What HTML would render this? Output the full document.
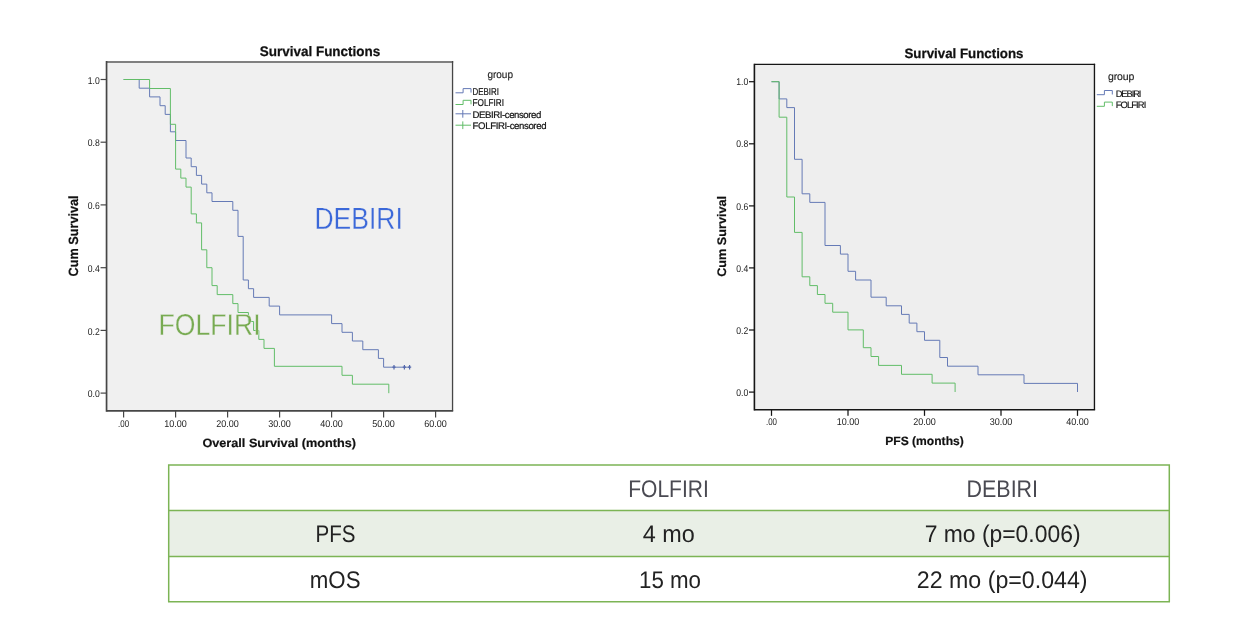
<!DOCTYPE html>
<html lang="en"><head><meta charset="utf-8"><title>Survival Functions</title>
<style>
html,body{margin:0;padding:0;background:#fff;}
body{width:1255px;height:644px;overflow:hidden;font-family:"Liberation Sans",sans-serif;}
svg{display:block;}
svg text{font-family:"Liberation Sans",sans-serif;text-rendering:geometricPrecision;}
.tk{font-size:9.8px;fill:#222;}
.ax{font-size:12px;font-weight:bold;fill:#111;stroke:#111;stroke-width:0.2px;}
.ti{font-size:13.8px;font-weight:bold;fill:#111;stroke:#111;stroke-width:0.25px;}
.lg{font-size:9.6px;fill:#111;stroke:#111;stroke-width:0.2px;}
.lg2{font-size:9.4px;fill:#111;stroke:#111;stroke-width:0.15px;}
.lgA{font-size:10px;fill:#111;stroke:#111;stroke-width:0.2px;}
.gp{font-size:10.5px;fill:#222;stroke:#222;stroke-width:0.15px;}
.tb{font-size:24px;fill:#222;}
.th{font-size:24px;fill:#4a4a52;}
</style></head><body>
<svg width="1255" height="644" viewBox="0 0 1255 644">
<rect width="1255" height="644" fill="#ffffff"/>

<rect x="106.55" y="62" width="346.00" height="348.80" fill="#f0f0f0"/>
<path d="M106.55,62H453.20" fill="none" stroke="#808080" stroke-width="2"/>
<path d="M452.55,61.00V410.8" fill="none" stroke="#464646" stroke-width="1.3"/>
<path d="M106.55,61.00V411.65" fill="none" stroke="#464646" stroke-width="1.7"/>
<path d="M106.55,410.8H453.20" fill="none" stroke="#464646" stroke-width="1.7"/>
<path d="M123.6,410.8v6.6" stroke="#464646" stroke-width="1.2"/>
<text class="tk" x="123.6" y="427.1" text-anchor="middle" textLength="11" lengthAdjust="spacingAndGlyphs">.00</text>
<path d="M175.6,410.8v6.6" stroke="#464646" stroke-width="1.2"/>
<text class="tk" x="175.6" y="427.1" text-anchor="middle" textLength="22.6" lengthAdjust="spacingAndGlyphs">10.00</text>
<path d="M227.6,410.8v6.6" stroke="#464646" stroke-width="1.2"/>
<text class="tk" x="227.6" y="427.1" text-anchor="middle" textLength="22.6" lengthAdjust="spacingAndGlyphs">20.00</text>
<path d="M279.6,410.8v6.6" stroke="#464646" stroke-width="1.2"/>
<text class="tk" x="279.6" y="427.1" text-anchor="middle" textLength="22.6" lengthAdjust="spacingAndGlyphs">30.00</text>
<path d="M331.6,410.8v6.6" stroke="#464646" stroke-width="1.2"/>
<text class="tk" x="331.6" y="427.1" text-anchor="middle" textLength="22.6" lengthAdjust="spacingAndGlyphs">40.00</text>
<path d="M383.6,410.8v6.6" stroke="#464646" stroke-width="1.2"/>
<text class="tk" x="383.6" y="427.1" text-anchor="middle" textLength="22.6" lengthAdjust="spacingAndGlyphs">50.00</text>
<path d="M435.6,410.8v6.6" stroke="#464646" stroke-width="1.2"/>
<text class="tk" x="435.6" y="427.1" text-anchor="middle" textLength="22.6" lengthAdjust="spacingAndGlyphs">60.00</text>
<path d="M106.55,79.5h-6" stroke="#464646" stroke-width="1.2"/>
<text class="tk" x="99.8" y="83.7" text-anchor="end" textLength="12" lengthAdjust="spacingAndGlyphs">1.0</text>
<path d="M106.55,142.2h-6" stroke="#464646" stroke-width="1.2"/>
<text class="tk" x="99.8" y="146.4" text-anchor="end" textLength="12" lengthAdjust="spacingAndGlyphs">0.8</text>
<path d="M106.55,204.9h-6" stroke="#464646" stroke-width="1.2"/>
<text class="tk" x="99.8" y="209.1" text-anchor="end" textLength="12" lengthAdjust="spacingAndGlyphs">0.6</text>
<path d="M106.55,267.7h-6" stroke="#464646" stroke-width="1.2"/>
<text class="tk" x="99.8" y="271.9" text-anchor="end" textLength="12" lengthAdjust="spacingAndGlyphs">0.4</text>
<path d="M106.55,330.4h-6" stroke="#464646" stroke-width="1.2"/>
<text class="tk" x="99.8" y="334.6" text-anchor="end" textLength="12" lengthAdjust="spacingAndGlyphs">0.2</text>
<path d="M106.55,393.1h-6" stroke="#464646" stroke-width="1.2"/>
<text class="tk" x="99.8" y="397.3" text-anchor="end" textLength="12" lengthAdjust="spacingAndGlyphs">0.0</text>
<path d="M123.6,79.5H139.2V88.2H149.6V96.9H160.0V105.7H165.2V114.4H170.4V131.8H175.6V140.5H186.0V158.0H191.2V166.7H196.4V175.4H201.6V184.1H206.8V192.8H212.0V201.5H232.8V210.3H238.0V236.4H243.2V280.0H248.4V288.7H253.6V297.4H269.2V306.1H279.6V314.9H331.6V323.6H342.0V332.3H352.4V341.0H362.8V349.7H378.4V358.4H383.6V367.2H409.6" fill="none" stroke="#657ab6" stroke-width="1"/>
<path d="M123.6,79.5H149.6V88.5H170.4V124.3H175.6V169.1H180.8V178.1H186.0V187.1H191.2V213.9H196.4V222.9H201.6V249.8H206.8V267.7H212.0V285.6H217.2V294.6H232.8V303.6H238.0V312.5H248.4V321.5H253.6V330.5H258.8V339.4H264.0V348.4H274.4V366.3H342.0V375.3H352.4V384.2H388.8V393.2" fill="none" stroke="#62bd68" stroke-width="1"/>
<path d="M394.0,365.0v4.4M392.4,367.2h3.2" stroke="#5468ac" stroke-width="1.2"/>
<path d="M404.4,365.0v4.4M402.8,367.2h3.2" stroke="#5468ac" stroke-width="1.2"/>
<path d="M409.6,365.0v4.4M408.0,367.2h3.2" stroke="#5468ac" stroke-width="1.2"/>
<text class="ti" x="320" y="55.6" text-anchor="middle" textLength="120.5" lengthAdjust="spacingAndGlyphs">Survival Functions</text>
<text class="ax" x="279.2" y="447.2" text-anchor="middle" textLength="153.6" lengthAdjust="spacingAndGlyphs">Overall Survival (months)</text>
<text class="ax" style="font-size:13.4px" transform="translate(78.3,235.9) rotate(-90)" text-anchor="middle" textLength="81" lengthAdjust="spacingAndGlyphs">Cum Survival</text>
<text class="gp" x="487.4" y="78" textLength="25.6" lengthAdjust="spacingAndGlyphs">group</text>
<path d="M455.5,92.8h7.6v-4.2h7.9v4" fill="none" stroke="#657ab6" stroke-width="1"/>
<text class="lgA" x="472.6" y="94.7" textLength="26.4" lengthAdjust="spacingAndGlyphs">DEBIRI</text>
<path d="M455.5,104.5h7.6v-4.2h7.9v4" fill="none" stroke="#62bd68" stroke-width="1"/>
<text class="lgA" x="472.6" y="106.4" textLength="31.4" lengthAdjust="spacingAndGlyphs">FOLFIRI</text>
<path d="M455.5,113.8h15.5M462.8,110.0v7.7" fill="none" stroke="#657ab6" stroke-width="1"/>
<text class="lg" x="472.6" y="117.7" textLength="68.7" lengthAdjust="spacing">DEBIRI-censored</text>
<path d="M455.5,125.2h15.5M462.8,121.4v7.7" fill="none" stroke="#62bd68" stroke-width="1"/>
<text class="lg" x="472.6" y="129" textLength="73.9" lengthAdjust="spacing">FOLFIRI-censored</text>
<text x="314.4" y="229.2" font-size="30.6" fill="#3b68d9" stroke="#f0f0f0" stroke-width="0.3" paint-order="fill stroke" textLength="88.5" lengthAdjust="spacingAndGlyphs">DEBIRI</text>
<text x="158.6" y="335.4" font-size="30.2" fill="#78ab52" stroke="#f0f0f0" stroke-width="0.3" paint-order="fill stroke" textLength="102" lengthAdjust="spacingAndGlyphs">FOLFIRI</text>
<rect x="754.4" y="64.4" width="340.05" height="345.25" fill="#eeeeee"/>
<path d="M754.4,64.4H1095.12" fill="none" stroke="#161616" stroke-width="1.2"/>
<path d="M1094.45,63.80V409.65" fill="none" stroke="#161616" stroke-width="1.35"/>
<path d="M754.4,63.80V410.40" fill="none" stroke="#161616" stroke-width="1.6"/>
<path d="M754.4,409.65H1095.12" fill="none" stroke="#161616" stroke-width="1.5"/>
<path d="M771.5,409.65v6.2" stroke="#161616" stroke-width="1.25"/>
<text class="tk" x="771.5" y="424.8" text-anchor="middle" textLength="11" lengthAdjust="spacingAndGlyphs">.00</text>
<path d="M848.0,409.65v6.2" stroke="#161616" stroke-width="1.25"/>
<text class="tk" x="848.0" y="424.8" text-anchor="middle" textLength="22.6" lengthAdjust="spacingAndGlyphs">10.00</text>
<path d="M924.5,409.65v6.2" stroke="#161616" stroke-width="1.25"/>
<text class="tk" x="924.5" y="424.8" text-anchor="middle" textLength="22.6" lengthAdjust="spacingAndGlyphs">20.00</text>
<path d="M1001.0,409.65v6.2" stroke="#161616" stroke-width="1.25"/>
<text class="tk" x="1001.0" y="424.8" text-anchor="middle" textLength="22.6" lengthAdjust="spacingAndGlyphs">30.00</text>
<path d="M1077.5,409.65v6.2" stroke="#161616" stroke-width="1.25"/>
<text class="tk" x="1077.5" y="424.8" text-anchor="middle" textLength="22.6" lengthAdjust="spacingAndGlyphs">40.00</text>
<path d="M754.4,81.7h-5.4" stroke="#161616" stroke-width="1.25"/>
<text class="tk" x="748.2" y="85.3" text-anchor="end" textLength="12" lengthAdjust="spacingAndGlyphs">1.0</text>
<path d="M754.4,143.8h-5.4" stroke="#161616" stroke-width="1.25"/>
<text class="tk" x="748.2" y="147.4" text-anchor="end" textLength="12" lengthAdjust="spacingAndGlyphs">0.8</text>
<path d="M754.4,205.9h-5.4" stroke="#161616" stroke-width="1.25"/>
<text class="tk" x="748.2" y="209.5" text-anchor="end" textLength="12" lengthAdjust="spacingAndGlyphs">0.6</text>
<path d="M754.4,267.9h-5.4" stroke="#161616" stroke-width="1.25"/>
<text class="tk" x="748.2" y="271.5" text-anchor="end" textLength="12" lengthAdjust="spacingAndGlyphs">0.4</text>
<path d="M754.4,330.0h-5.4" stroke="#161616" stroke-width="1.25"/>
<text class="tk" x="748.2" y="333.6" text-anchor="end" textLength="12" lengthAdjust="spacingAndGlyphs">0.2</text>
<path d="M754.4,392.1h-5.4" stroke="#161616" stroke-width="1.25"/>
<text class="tk" x="748.2" y="395.7" text-anchor="end" textLength="12" lengthAdjust="spacingAndGlyphs">0.0</text>
<path d="M771.5,81.7H779.1V98.9H786.8V107.6H794.5V159.3H802.1V193.8H809.8V202.4H825.0V245.5H840.4V254.1H848.0V271.3H855.6V280.0H871.0V297.2H886.2V305.8H901.5V314.4H909.2V323.1H916.9V331.7H924.5V340.3H939.8V357.5H947.5V366.2H978.0V374.8H1024.0V383.4H1077.5V392.0" fill="none" stroke="#657ab6" stroke-width="1"/>
<path d="M771.5,81.7H779.1V117.2H786.8V197.0H794.5V232.4H802.1V276.8H809.8V285.6H817.4V294.5H825.0V303.3H832.7V312.2H848.0V329.9H863.3V347.7H871.0V356.5H878.6V365.4H901.5V374.3H932.1V383.1H955.1V392.0" fill="none" stroke="#62bd68" stroke-width="1"/>
<text class="ti" style="font-size:13.6px" x="964" y="57.8" text-anchor="middle" textLength="119" lengthAdjust="spacingAndGlyphs">Survival Functions</text>
<text class="ax" x="924.5" y="445.2" text-anchor="middle" textLength="78.6" lengthAdjust="spacingAndGlyphs">PFS (months)</text>
<text class="ax" style="font-size:12.4px" transform="translate(726.3,236.4) rotate(-90)" text-anchor="middle" textLength="80.8" lengthAdjust="spacingAndGlyphs">Cum Survival</text>
<text class="gp" x="1108" y="80.1" textLength="26.4" lengthAdjust="spacing">group</text>
<path d="M1096.8,94.7h7.6v-4.2h7.9v4" fill="none" stroke="#657ab6" stroke-width="1"/>
<text class="lg2" x="1115.7" y="96.7" textLength="25.7" lengthAdjust="spacing">DEBIRI</text>
<path d="M1096.8,106.3h7.6v-4.2h7.9v4" fill="none" stroke="#62bd68" stroke-width="1"/>
<text class="lg2" x="1115.7" y="108.3" textLength="30.6" lengthAdjust="spacing">FOLFIRI</text>
<rect x="168.7" y="510.4" width="1000.6" height="46" fill="#e9efe6"/>
<path d="M168.7,464.9H1169.3V601.8H168.7ZM168.7,510.4H1169.3M168.7,556.4H1169.3" fill="none" stroke="#7cb455" stroke-width="1.5"/>
<text class="th" x="668.5" y="496.7" text-anchor="middle" textLength="80.6" lengthAdjust="spacingAndGlyphs">FOLFIRI</text>
<text class="th" x="1002.3" y="496.7" text-anchor="middle" textLength="71.5" lengthAdjust="spacingAndGlyphs">DEBIRI</text>
<text class="tb" x="335.6" y="541.6" text-anchor="middle" textLength="40" lengthAdjust="spacingAndGlyphs">PFS</text>
<text class="tb" x="668.8" y="541.6" text-anchor="middle" textLength="52" lengthAdjust="spacingAndGlyphs">4 mo</text>
<text class="tb" x="1002.6" y="541.6" text-anchor="middle" textLength="155.9" lengthAdjust="spacingAndGlyphs">7 mo (p=0.006)</text>
<text class="tb" x="335.2" y="587.7" text-anchor="middle" textLength="50.8" lengthAdjust="spacingAndGlyphs">mOS</text>
<text class="tb" x="670" y="587.7" text-anchor="middle" textLength="62" lengthAdjust="spacingAndGlyphs">15 mo</text>
<text class="tb" x="1002.2" y="587.7" text-anchor="middle" textLength="170.7" lengthAdjust="spacingAndGlyphs">22 mo (p=0.044)</text>
</svg>
</body></html>
